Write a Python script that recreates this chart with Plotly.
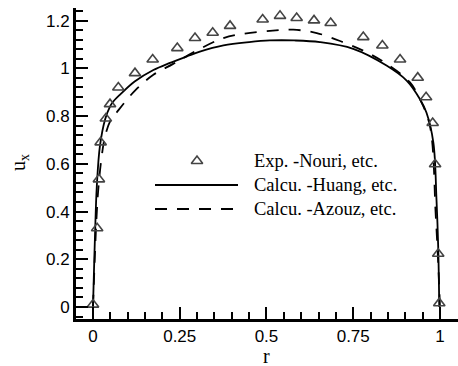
import plotly.graph_objects as go

# Experimental data (Nouri, etc.)
exp_r = [0, 0.012, 0.017, 0.022, 0.037, 0.049, 0.073, 0.121, 0.172, 0.243, 0.294, 0.345, 0.395,
         0.489, 0.539, 0.587, 0.637, 0.685, 0.779, 0.834, 0.885, 0.936, 0.96, 0.979, 0.986, 0.995, 0.998]
exp_u = [0.01, 0.33, 0.535, 0.69, 0.79, 0.85, 0.92, 0.98, 1.037, 1.085, 1.127, 1.149, 1.178,
         1.205, 1.22, 1.211, 1.201, 1.19, 1.131, 1.096, 1.037, 0.961, 0.879, 0.771, 0.598, 0.223, 0.016]

# Calculation (Huang, etc.) - solid
huang_r = [0, 0.003, 0.006, 0.011, 0.02, 0.035, 0.049, 0.058, 0.078, 0.12, 0.174, 0.22, 0.28, 0.308,
           0.376, 0.45, 0.51, 0.58, 0.654, 0.75, 0.846, 0.904, 0.942, 0.961, 0.981, 0.99, 0.995, 0.998]
huang_u = [0, 0.16, 0.31, 0.507, 0.675, 0.787, 0.84, 0.86, 0.89, 0.945, 0.993, 1.022, 1.055, 1.07,
           1.096, 1.11, 1.117, 1.117, 1.11, 1.082, 1.012, 0.949, 0.872, 0.815, 0.689, 0.45, 0.25, 0]

# Calculation (Azouz, etc.) - dashed
azouz_r = [0, 0.005, 0.01, 0.015, 0.025, 0.035, 0.05, 0.068, 0.121, 0.174, 0.231, 0.299, 0.376, 0.433,
           0.51, 0.577, 0.645, 0.72, 0.788, 0.846, 0.913, 0.942, 0.971, 0.988, 0.996, 1.0]
azouz_u = [0, 0.2, 0.37, 0.49, 0.63, 0.717, 0.78, 0.815, 0.907, 0.973, 1.019, 1.075, 1.127, 1.145,
           1.157, 1.162, 1.148, 1.11, 1.068, 1.019, 0.942, 0.872, 0.759, 0.38, 0.15, 0]

legend_labels = ["Exp. -Nouri, etc.", "Calcu. -Huang, etc.", "Calcu. -Azouz, etc."]

W, H = 458, 366
ML, MR, MT, MB = 76, 0, 8, 47
PW, PH = W - ML - MR, H - MT - MB

def px(x):
    return (x - ML) / PW

def py(y):
    return (H - MB - y) / PH

marker_style = dict(symbol="triangle-up-open", size=10, color="#444", line=dict(width=1.6, color="#444"))
solid_style = dict(color="black", width=1.8)
dash_style = dict(color="black", width=1.8, dash="12px,10px")

fig = go.Figure()
fig.add_trace(go.Scatter(x=huang_r, y=huang_u, mode="lines", line=solid_style, line_shape="spline",
                         showlegend=False))
fig.add_trace(go.Scatter(x=azouz_r, y=azouz_u, mode="lines", line=dash_style, line_shape="spline",
                         showlegend=False))
fig.add_trace(go.Scatter(x=exp_r, y=exp_u, mode="markers", marker=marker_style, showlegend=False))

# manual legend drawn on an invisible overlay axis spanning the plot area (0..1)
rows = [161, 185, 209]
fig.add_trace(go.Scatter(x=[px(197)], y=[py(rows[0])], mode="markers", marker=marker_style,
                         xaxis="x2", yaxis="y2", showlegend=False))
fig.add_trace(go.Scatter(x=[px(155), px(238)], y=[py(rows[1])] * 2, mode="lines", line=solid_style,
                         xaxis="x2", yaxis="y2", showlegend=False))
fig.add_trace(go.Scatter(x=[px(155), px(238)], y=[py(rows[2])] * 2, mode="lines", line=dash_style,
                         xaxis="x2", yaxis="y2", showlegend=False))
for lab, r in zip(legend_labels, rows):
    fig.add_annotation(x=px(252), y=py(r), xref="paper", yref="paper", text=lab, showarrow=False,
                       xanchor="left", yanchor="middle",
                       font=dict(family="Liberation Serif", size=18.5, color="black"))

fig.add_annotation(x=px(19), y=py(163), xref="paper", yref="paper", text="u<sub>x</sub>",
                   showarrow=False, textangle=-90, xanchor="center", yanchor="middle",
                   font=dict(family="Liberation Serif", size=20, color="black"))
fig.add_annotation(x=px(266), y=py(356), xref="paper", yref="paper", text="r",
                   showarrow=False, xanchor="center", yanchor="middle",
                   font=dict(family="Liberation Serif", size=20, color="black"))

axis_common = dict(showgrid=False, zeroline=False, showline=True, linecolor="black", linewidth=3,
                   ticks="inside", ticklen=12, tickwidth=2, tickcolor="black",
                   tickfont=dict(family="Liberation Sans", size=17, color="black"))

fig.update_layout(
    width=W, height=H,
    margin=dict(l=ML, r=MR, t=MT, b=MB),
    paper_bgcolor="white", plot_bgcolor="white",
    xaxis=dict(range=[-0.049, 1.052], dtick=0.25, tick0=0,
               minor=dict(dtick=0.05, ticks="inside", ticklen=7, tickwidth=2, tickcolor="black"),
               **axis_common),
    yaxis=dict(range=[-0.0503, 1.253], dtick=0.2, tick0=0,
               minor=dict(dtick=0.04, ticks="inside", ticklen=7, tickwidth=2, tickcolor="black"),
               **axis_common),
    xaxis2=dict(overlaying="x", range=[0, 1], visible=False),
    yaxis2=dict(overlaying="y", range=[0, 1], visible=False),
)

fig.write_html("out.html")
